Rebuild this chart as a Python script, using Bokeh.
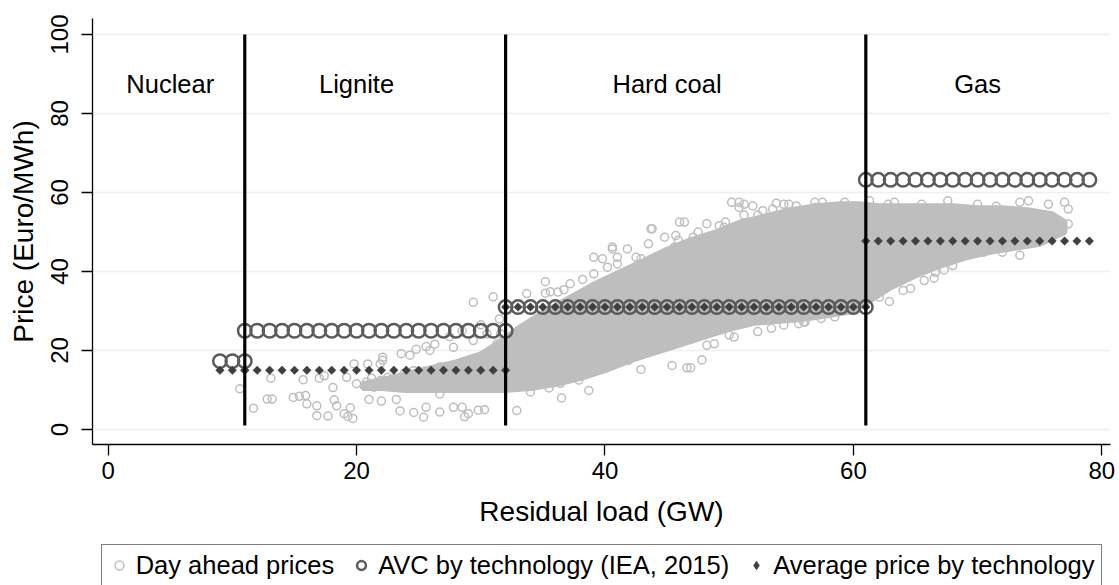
import numpy as np
from bokeh.plotting import figure
from bokeh.layouts import column
from bokeh.models import Legend, LegendItem
from bokeh.core.properties import value
from bokeh.embed import file_html
from bokeh.resources import INLINE

FONT = "Liberation Sans"

# ---------------- data ----------------
# technology blocks (residual load in GW, price in Euro/MWh)
tech_names = ["Nuclear", "Lignite", "Hard coal", "Gas"]
tech_label_load = [5, 20, 45, 70]
tech_label_price = [87.5, 87.5, 87.5, 87.5]
tech_boundaries = [11, 32, 61]
boundary_bottom = [1, 1, 1]
boundary_top = [100, 100, 100]

nuclear_load = [9, 10, 11]
lignite_load = list(range(11, 33))
hardcoal_load = list(range(32, 62))
gas_load = list(range(61, 80))

avc_nuclear = 17.3
avc_lignite = 25.0
avc_hardcoal = 31.0
avc_gas = 63.2

avgp_nuclear = 15.0
avgp_lignite = 15.0
avgp_hardcoal = 31.0
avgp_gas = 47.7

# dense core of the day-ahead price cloud (outline)
cloud_load = [20.5, 22, 24, 26, 28, 30, 31.5, 33, 35, 37, 39, 41, 43, 45, 47, 49, 51, 53, 55, 57, 59, 60.5,
              62, 64, 66, 68, 70, 72, 74, 76, 77,
              77, 75, 73, 71, 69, 67, 65, 63, 61.5, 60, 58, 56, 54, 52, 50, 48, 46, 44, 42, 40, 38,
              36, 34, 32, 30, 28, 26, 24, 22, 20.5]
cloud_price = [11.5, 12.5, 14, 15.5, 17, 19, 22, 25.5, 29.5, 33, 36.5, 39.5, 42.5, 45.5, 48, 50, 52.5, 54, 55.5,
               56.5, 57, 57, 56.5, 56.5, 56.5, 56.5, 56, 56, 55.5, 54.5, 52.5,
               50, 47, 46, 45, 43.5, 41.5, 39, 36, 33, 30, 29, 28, 27.5, 27, 25.5, 23.5, 21.5, 19.5,
               17.5, 15, 13, 11.5, 10.5, 10, 10, 10, 10, 10, 10.5, 10.5]

# individual day-ahead price observations outside the dense core
price_load = [10.6, 11.7, 12.8, 13.1, 13.2, 14.9, 15.4, 15.9, 15.7, 16.0, 16.8, 16.8, 17.7, 17.0, 17.4,
              18.1, 18.2, 18.4, 19.0, 19.3, 19.7, 19.5, 19.8, 20.9, 22.1, 22.1, 24.3, 21.2, 22.5, 21.0,
              22.0, 23.2, 23.5, 24.6, 25.4, 25.6, 26.7, 26.7, 27.8, 28.5, 28.7, 29.0, 29.8, 30.3, 32.9,
              24.8, 25.6, 26.3, 29.4, 31.0, 33.7, 35.2, 35.2, 27.5, 28.5, 30.0, 31.5,
              19.2, 20.0, 20.8, 21.4, 21.9, 22.4, 23.3, 23.8, 24.6, 25.1, 25.9, 26.7, 27.3, 28.1, 28.9,
              29.4, 30.2, 30.5, 31.0, 31.3, 31.6, 23.6, 21.9, 25.9, 27.8, 29.4, 30.5,
              36.2, 37.2, 39.1, 39.1, 39.8, 40.6, 40.6, 41.0, 41.0, 42.9, 43.5, 43.7, 43.8, 45.6, 45.7,
              46.4, 46.0, 47.1, 47.5, 49.2, 49.7, 50.2, 50.8, 50.8, 51.2, 51.9, 52.7, 53.5, 53.8, 54.4,
              54.8, 55.4, 56.9, 56.9, 57.5, 59.3, 61.3,
              48.2, 49.6, 50.6, 51.2, 52.3, 51.7, 53.0, 54.4, 55.6, 41.8, 42.5, 40.2, 44.8, 45.9, 46.9,
              38.2, 36.7, 35.6,
              62.8, 63.3, 65.5, 67.6, 73.4, 74.1, 75.7, 77.0, 77.3, 77.3, 75.9, 76.6, 70.0, 71.5,
              72.0, 73.4, 70.5, 68.0, 66.6, 65.7, 64.0, 62.9, 64.6, 66.5, 67.3, 62.1,
              36.4, 37.9, 38.7, 41.9, 42.9, 45.4, 46.6, 46.9, 47.8, 48.2, 48.8, 50.0, 50.4, 55.6, 56.0,
              34.0, 35.5, 36.5,
              52.3, 53.4, 54.4, 56.1, 57.4, 58.5, 46.9, 45.9]
price_value = [10.3, 5.4, 7.7, 13.0, 7.7, 8.1, 8.4, 8.6, 12.6, 6.5, 6.0, 3.5, 3.4, 13.0, 13.6,
               10.6, 7.5, 6.0, 4.0, 3.3, 2.8, 5.5, 16.6, 16.6, 17.5, 18.3, 18.8, 13.0, 13.2, 7.6,
               7.2, 7.6, 4.7, 4.3, 3.1, 5.6, 4.4, 9.0, 5.6, 5.6, 3.2, 4.0, 4.9, 5.0, 4.8,
               20.3, 21.0, 21.6, 32.2, 33.6, 34.4, 37.4, 34.5, 23.5, 25.0, 26.5, 28.0,
               13.2, 11.6, 12.0, 10.7, 12.4, 11.6, 12.8, 14.1, 14.9, 12.4, 14.1, 15.8, 13.2, 14.9, 16.6,
               14.1, 17.5, 14.9, 19.2, 21.7, 24.2, 19.2, 16.6, 20.0, 20.8, 22.5, 24.2,
               34.8, 36.9, 39.4, 43.6, 43.2, 45.7, 46.2, 43.6, 41.9, 43.2, 47.0, 50.8, 50.8, 46.2, 49.1,
               52.5, 52.5, 48.7, 50.0, 51.6, 52.5, 57.5, 57.5, 56.2, 57.0, 56.6, 55.4, 55.8, 57.3, 57.0,
               57.0, 56.6, 56.2, 57.5, 57.5, 57.5, 57.9,
               52.1, 51.2, 50.0, 54.3, 54.3, 51.3, 52.8, 54.5, 53.6, 45.7, 43.6, 41.1, 48.7, 47.9, 46.2,
               38.0, 35.4, 34.9,
               57.0, 57.5, 57.0, 57.9, 57.5, 57.9, 57.0, 57.5, 55.8, 52.0, 49.5, 49.9, 57.0, 56.5,
               44.9, 44.1, 44.9, 41.5, 39.8, 37.7, 35.2, 32.4, 35.7, 38.3, 40.4, 33.5,
               11.7, 12.5, 9.9, 17.5, 15.2, 16.2, 15.6, 15.6, 17.6, 21.3, 21.7, 23.9, 23.4, 26.8, 27.2,
               9.5, 10.5, 8.0,
               24.8, 25.6, 26.4, 27.2, 28.1, 28.5, 22.8, 22.0]

x_ticks = [0, 20, 40, 60, 80]
y_ticks = [0, 20, 40, 60, 80, 100]

# ---------------- derived series ----------------
avc_load = nuclear_load + lignite_load + hardcoal_load + gas_load
avc_value = ([avc_nuclear] * len(nuclear_load) + [avc_lignite] * len(lignite_load)
             + [avc_hardcoal] * len(hardcoal_load) + [avc_gas] * len(gas_load))
avgp_value = ([avgp_nuclear] * len(nuclear_load) + [avgp_lignite] * len(lignite_load)
              + [avgp_hardcoal] * len(hardcoal_load) + [avgp_gas] * len(gas_load))

PRICE_STYLE = dict(size=8, fill_color=None, line_color="#bebebe", line_width=1.5)
AVC_STYLE = dict(size=13.5, fill_color=None, line_color="#5b5b5b", line_width=2.5)
AVG_STYLE = dict(fill_color="#3f3f3f", line_color="#3f3f3f", line_width=0.5)

# ---------------- main figure ----------------
p = figure(width=1119, height=530, x_range=(-1.26, 80.7), y_range=(-3.8, 104.05),
           output_backend="svg", toolbar_location=None,
           min_border_left=92, min_border_right=9, min_border_top=18, min_border_bottom=86)
p.outline_line_color = None
p.background_fill_color = "white"
p.border_fill_color = "white"

p.xgrid.visible = False
p.ygrid.grid_line_color = "#e8f0f2"
p.ygrid.grid_line_width = 1.5

for ax in (p.xaxis[0], p.yaxis[0]):
    ax.axis_line_color = "black"
    ax.axis_line_width = 1.3
    ax.major_tick_line_color = "black"
    ax.major_tick_line_width = 1.3
    ax.major_tick_out = 11
    ax.major_tick_in = 0
    ax.minor_tick_line_color = None
    ax.major_label_text_font = FONT
    ax.major_label_text_font_size = "24px"
    ax.major_label_text_color = "black"
    ax.axis_label_text_font = FONT
    ax.axis_label_text_font_size = "28px"
    ax.axis_label_text_font_style = "normal"
    ax.axis_label_text_color = "black"

p.xaxis.ticker = x_ticks
p.yaxis.ticker = y_ticks
p.xaxis.axis_label = "Residual load (GW)"
p.yaxis.axis_label = "Price (Euro/MWh)"
p.yaxis.major_label_orientation = "vertical"
p.xaxis.major_label_standoff = 6
p.yaxis.major_label_standoff = 13
p.xaxis.axis_label_standoff = 14
p.yaxis.axis_label_standoff = 10

# cloud core
p.patch(cloud_load, cloud_price, fill_color="#bebebe", line_color="#bebebe", line_width=6)

# day-ahead prices (hollow light circles)
p.scatter(price_load, price_value, marker="circle", **PRICE_STYLE)

# AVC circles
p.scatter(avc_load, avc_value, marker="circle", **AVC_STYLE)

# average price diamonds
p.scatter(avc_load, avgp_value, marker="square", angle=np.pi / 4, size=6, **AVG_STYLE)

# technology boundaries
p.segment(x0=tech_boundaries, y0=boundary_bottom, x1=tech_boundaries, y1=boundary_top,
          line_color="black", line_width=3.2)

# technology labels
p.text(x=tech_label_load, y=tech_label_price, text=tech_names,
       text_font=value(FONT), text_font_size=value("25.5px"), text_color="black",
       text_align="center", text_baseline="alphabetic")

# ---------------- legend strip ----------------
lg = figure(width=1119, height=55, x_range=(0, 1), y_range=(0, 1),
            output_backend="svg", toolbar_location=None,
            x_axis_type=None, y_axis_type=None,
            min_border_left=0, min_border_right=0, min_border_top=0, min_border_bottom=0)
lg.outline_line_color = None
lg.xgrid.visible = False
lg.ygrid.visible = False
nan = [np.nan]
lr_price = lg.scatter(nan, nan, marker="circle", **PRICE_STYLE)
lr_avc = lg.scatter(nan, nan, marker="circle", **AVC_STYLE)
lr_avg = lg.scatter(nan, nan, marker="diamond", size=9, **AVG_STYLE)

legend = Legend(items=[
    LegendItem(label="Day ahead prices", renderers=[lr_price]),
    LegendItem(label="AVC by technology (IEA, 2015)", renderers=[lr_avc]),
    LegendItem(label="Average price by technology", renderers=[lr_avg]),
], orientation="horizontal", location=(8.7, -1.5))
legend.label_text_font = FONT
legend.label_text_font_size = "25.5px"
legend.label_text_color = "black"
legend.border_line_color = "black"
legend.border_line_width = 1.5
legend.padding = 6
legend.spacing = 16
legend.label_standoff = 6
legend.glyph_width = 22
legend.glyph_height = 24
legend.margin = 0
legend.background_fill_alpha = 1.0
lg.add_layout(legend, "center")

open("out.html", "w").write(file_html(column(p, lg), INLINE))
